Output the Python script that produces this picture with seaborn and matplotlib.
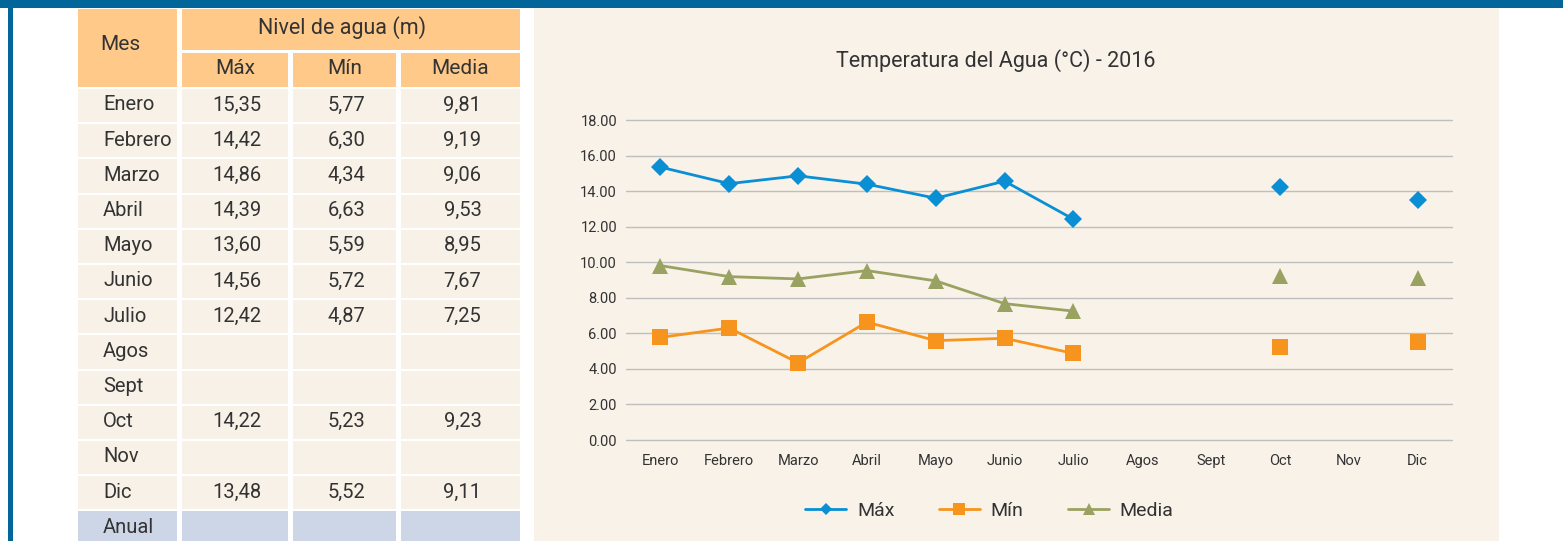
import matplotlib
matplotlib.use('Agg')
import matplotlib.pyplot as plt
from matplotlib.patches import Rectangle
from matplotlib.lines import Line2D
import numpy as np
import pandas as pd
import seaborn as sns

# datos de la tabla / grafico
meses = ['Enero', 'Febrero', 'Marzo', 'Abril', 'Mayo', 'Junio', 'Julio',
         'Agos', 'Sept', 'Oct', 'Nov', 'Dic']
maximos = [15.35, 14.42, 14.86, 14.39, 13.60, 14.56, 12.42, np.nan, np.nan, 14.22, np.nan, 13.48]
minimos = [5.77, 6.30, 4.34, 6.63, 5.59, 5.72, 4.87, np.nan, np.nan, 5.23, np.nan, 5.52]
medias = [9.81, 9.19, 9.06, 9.53, 8.95, 7.67, 7.25, np.nan, np.nan, 9.23, np.nan, 9.11]
series = ['Máx', 'Mín', 'Media']
colores = ['#0A8FD4', '#F7941D', '#9AA262']
marcadores = ['D', 's', '^']

sns.set_theme(style='white')
plt.rcParams['font.family'] = ['Roboto', 'DejaVu Sans']
TXT = '#333333'

W, H = 1563, 541
fig = plt.figure(figsize=(W / 100, H / 100), dpi=100)
fig.patch.set_facecolor('white')

# capa de fondo en pixeles
bg = fig.add_axes([0, 0, 1, 1])
bg.set_xlim(0, W)
bg.set_ylim(H, 0)
bg.axis('off')

azul = '#03669A'
bg.add_patch(Rectangle((0, 0), W, 7.5, color=azul, lw=0))
bg.add_patch(Rectangle((7.5, 7.5), 5, H, color=azul, lw=0))
bg.add_patch(Rectangle((534, 7.5), 965, H, color='#F8F2E9', lw=0))

# tabla
naranja = '#FFC98A'
crema = '#F8F1E7'
anual = '#CCD6E6'
cols = [(78, 177), (182, 288), (293, 396), (401, 520)]

bg.add_patch(Rectangle((78, 8.5), 99, 78.5, color=naranja, lw=0))
bg.text(120.5, 45, 'Mes', ha='center', va='center', fontsize=15, color=TXT)
bg.add_patch(Rectangle((182, 8.5), 338, 41.5, color=naranja, lw=0))
bg.text(342, 28, 'Nivel de agua (m)', ha='center', va='center', fontsize=15.5, color=TXT)
for (x0, x1), nombre in zip(cols[1:], series):
    bg.add_patch(Rectangle((x0, 52.5), x1 - x0, 34.5, color=naranja, lw=0))
    bg.text((x0 + x1) / 2, 68.5, nombre, ha='center', va='center', fontsize=15, color=TXT)


def fmt(v):
    return '' if np.isnan(v) else f'{v:.2f}'.replace('.', ',')


filas_tabla = list(zip(meses, maximos, minimos, medias)) + [('Anual', np.nan, np.nan, np.nan)]
for i, (mes, a, b, c) in enumerate(filas_tabla):
    top = 89 + i * 35.2
    color = anual if mes == 'Anual' else crema
    for x0, x1 in cols:
        bg.add_patch(Rectangle((x0, top), x1 - x0, 33.2, color=color, lw=0))
    yc = top + 16
    bg.text(103, yc, mes, ha='left', va='center', fontsize=14.5, color=TXT)
    for (x0, x1), v in zip(cols[1:], (a, b, c)):
        bg.text((x0 + x1) / 2 + 2, yc, fmt(v), ha='center', va='center', fontsize=14.5, color=TXT)

# grafico
filas = []
for nombre, valores in zip(series, [maximos, minimos, medias]):
    tramo = 0
    for i, v in enumerate(valores):
        if np.isnan(v):
            tramo += 1
            continue
        filas.append({'pos': i, 'valor': v, 'serie': nombre, 'tramo': tramo})
df = pd.DataFrame(filas)

ax = fig.add_axes([626 / W, 1 - 440 / H, 826 / W, 320 / H])
ax.set_facecolor('none')
sns.lineplot(data=df, x='pos', y='valor', hue='serie', style='serie', units='tramo',
             estimator=None, sort=False, palette=dict(zip(series, colores)),
             markers=dict(zip(series, marcadores)), dashes=False, lw=2,
             markersize=12, markeredgewidth=0, legend=False, ax=ax)
for line in ax.lines:
    if line.get_marker() == 'D':
        line.set_markersize(9)

ax.set_xlim(-0.5, 11.5)
ax.set_ylim(0, 18)
ax.set_xticks(range(len(meses)))
ax.set_xticklabels(meses)
ax.set_yticks(np.arange(0, 19, 2))
ax.set_yticklabels([f'{v:.2f}' for v in np.arange(0, 19, 2)])
ax.tick_params(axis='x', length=0, pad=10, labelsize=10.5, labelcolor=TXT)
ax.tick_params(axis='y', length=0, pad=6.5, labelsize=10.5, labelcolor=TXT)
ax.set_xlabel('')
ax.set_ylabel('')
ax.grid(axis='y', color='#BFBFBF', lw=1)
ax.set_axisbelow(True)
for gl in ax.get_ygridlines():
    gl.set_clip_on(False)
sns.despine(ax=ax, left=True, bottom=True)

fig.text(996 / W, 1 - 61 / H, 'Temperatura del Agua (°C) - 2016', ha='center', va='center',
         fontsize=15.5, color=TXT)

handles = [Line2D([], [], color=c, marker=m, lw=2, markeredgewidth=0,
                  markersize=(6.5 if m == 'D' else 8.5))
           for c, m in zip(colores, marcadores)]
fig.legend(handles, series, loc='center', bbox_to_anchor=(989.5 / W, 1 - 511 / H), ncol=3,
           frameon=False, fontsize=14, handlelength=2.1, handletextpad=0.55,
           columnspacing=2.3, labelcolor=TXT)

fig.savefig('out.png', dpi=100, facecolor='white')
